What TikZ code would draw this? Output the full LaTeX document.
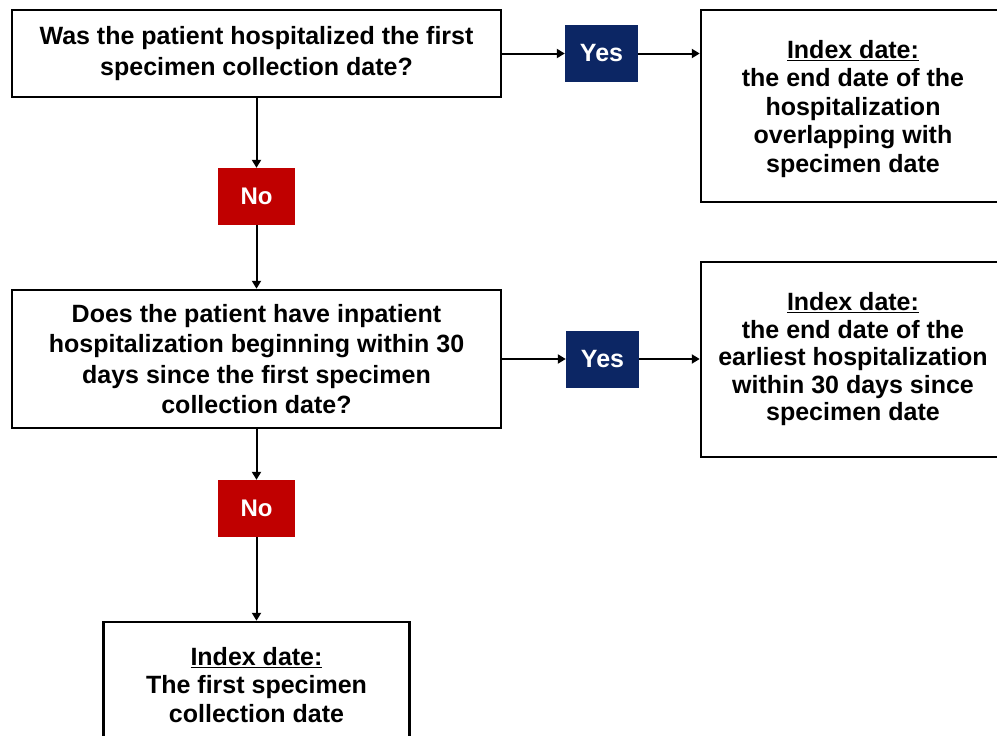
\documentclass[tikz,border=0pt]{standalone}
\usepackage{fontspec}
\setmainfont{Liberation Sans}
\usetikzlibrary{arrows.meta}
\definecolor{yesblue}{RGB}{12,38,100}
\definecolor{nored}{RGB}{192,0,0}
\tikzset{
  qbox/.style={draw=black, line width=2.5pt, fill=white, rectangle, inner sep=0pt, align=center,
    font=\bfseries\fontsize{25}{30.5}\selectfont},
  rbox/.style={draw=black, line width=2.5pt, fill=white, rectangle, inner sep=0pt, align=center,
    font=\bfseries\fontsize{25}{28.5}\selectfont},
  yesbox/.style={fill=yesblue, text=white, rectangle, inner sep=0pt, minimum width=73pt, minimum height=57pt,
    font=\bfseries\fontsize{25}{28}\selectfont},
  nobox/.style={fill=nored, text=white, rectangle, inner sep=0pt, minimum width=77pt, minimum height=57pt,
    font=\bfseries\fontsize{24}{28}\selectfont},
  conn/.style={line width=2pt, -{Triangle[width=9pt,length=8pt]}}
}
\begin{document}
\begin{tikzpicture}[x=1pt,y=-1pt]
\useasboundingbox (0,0) rectangle (997,736);
\fill[white] (0,0) rectangle (997,736);

\node[qbox, minimum width=489pt, minimum height=87pt] (q1) at (256.5,53.5)
  {Was the patient hospitalized the first\\specimen collection date?};
\node[nobox] (no1) at (256.5,196.5) {No};
\node[qbox, minimum width=489pt, minimum height=138pt] (q2) at (256.5,359)
  {Does the patient have inpatient\\hospitalization beginning within 30\\days since the first specimen\\collection date?};
\node[nobox] (no2) at (256.5,508.5) {No};
\node[rbox, minimum width=306pt, minimum height=126pt] (r3) at (256.5,685)
  {\underline{Index date:}\\The first specimen\\collection date};

\node[yesbox] (yes1) at (601.5,53.5) {Yes};
\node[yesbox] (yes2) at (602.5,359) {Yes};

\node[rbox, minimum width=304pt, minimum height=192pt, text depth=0pt] (r1) at (853,106)
  {\underline{Index date:}\\the end date of the\\hospitalization\\overlapping with\\specimen date};
\node[rbox, minimum width=304pt, minimum height=195pt, font=\bfseries\fontsize{25}{27.5}\selectfont] (r2) at (853,359.5)
  {\underline{Index date:}\\the end date of the\\earliest hospitalization\\within 30 days since\\specimen date};

\draw[conn] (q1.south) -- (no1.north);
\draw[conn] (no1.south) -- (q2.north);
\draw[conn] (q2.south) -- (no2.north);
\draw[conn] (no2.south) -- (r3.north);
\draw[conn] (q1.east) -- (yes1.west);
\draw[conn] (yes1.east) -- (yes1.east -| r1.west);
\draw[conn] (q2.east) -- (yes2.west);
\draw[conn] (yes2.east) -- (yes2.east -| r2.west);
\end{tikzpicture}
\end{document}
